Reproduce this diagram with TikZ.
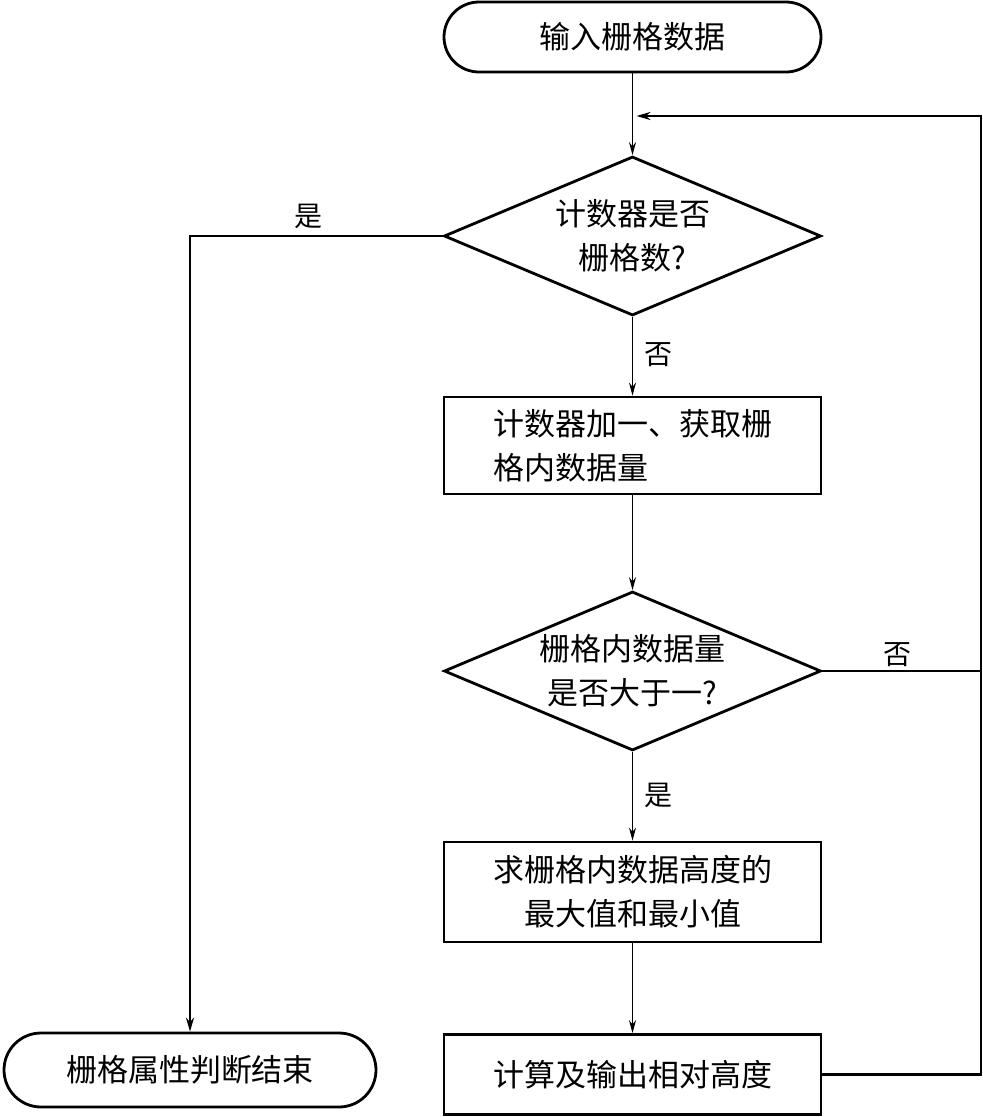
\documentclass[tikz,border=0pt]{standalone}
\usepackage{fontspec}
\setmainfont{Noto Sans CJK SC}
\usetikzlibrary{shapes.geometric,arrows.meta}
\begin{document}
\begin{tikzpicture}[x=1pt,y=-1pt,
  every node/.style={font=\fontsize{31}{44}\selectfont},
  term/.style={draw,line width=2.8pt,rounded corners=35pt,minimum width=377pt,minimum height=70pt,inner sep=0pt},
  procbox/.style={draw,line width=2.8pt,minimum width=377pt,inner sep=0pt},
  decide/.style={draw,diamond,aspect=2.37,line width=2.8pt,minimum width=377pt,minimum height=159pt,inner sep=0pt,align=center},
  thin/.style={line width=1pt,-{Stealth[length=13pt,width=7pt]}},
  thick/.style={line width=2.3pt},
  lbl/.style={font=\fontsize{28}{30}\selectfont,inner sep=0pt}]
\useasboundingbox (0,0) rectangle (983,1117);
\node[term] (start) at (632.5,37) {输入栅格数据};
\node[decide] (d1) at (632.5,236) {计数器是否\\栅格数?};
\node[procbox,minimum height=97pt,align=left] (b1) at (632.5,445.5) {计数器加一、获取栅\\格内数据量};
\node[decide] (d2) at (632.5,671) {栅格内数据量\\是否大于一?};
\node[procbox,minimum height=100pt,align=center] (b2) at (632.5,892) {求栅格内数据高度的\\最大值和最小值};
\node[procbox,minimum height=80pt] (b3) at (632.5,1074.5) {计算及输出相对高度};
\node[term,minimum width=372pt,minimum height=74pt,rounded corners=37pt] (end) at (190,1070) {栅格属性判断结束};
\coordinate (loop) at (632.5,116);
\coordinate (R) at (981,116);
\draw[thin] (start.south) -- (d1.north);
\draw[thin] (d1.south) -- (b1.north);
\draw[thin] (b1.south) -- (d2.north);
\draw[thin] (d2.south) -- (b2.north);
\draw[thin] (b2.south) -- (b3.north);
\draw[thick,-{Stealth[length=14pt,width=8pt]},shorten >=4pt] (b3.east) -| (R) -- (loop);
\draw[thick] (d2.east) -- (d2.east -| R);
\draw[thick,-{Stealth[length=14pt,width=8pt]}] (d1.west) -| (end.north);
\node[lbl] (l1) at (308,216) {是};
\node[lbl] (l2) at (658,355) {否};
\node[lbl] (l3) at (897,655) {否};
\node[lbl] (l4) at (658,795) {是};
\end{tikzpicture}
\end{document}
